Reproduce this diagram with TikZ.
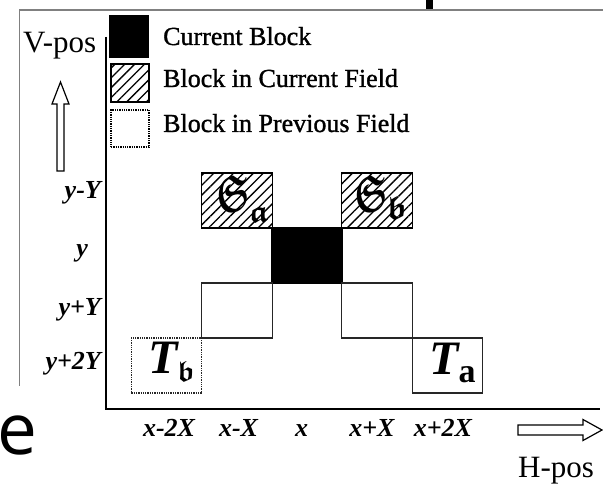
\documentclass[tikz,border=0pt]{standalone}
\usepackage{fontspec}
\usepackage{amsmath,amssymb}
\setmainfont{Liberation Serif}
\newfontfamily\slidefont{Open Sans}
\newfontfamily\scanfont[FakeBold=1.2]{Liberation Serif}
\usetikzlibrary{patterns.meta}
\newcommand{\bigT}{{\fontsize{48}{48}\selectfont\bfseries\itshape T}}
\newcommand{\bigS}{\scalebox{3.4}[5.2]{$\boldsymbol{\mathfrak{S}}$}}
\newcommand{\frsub}[3]{\raisebox{-#1}{\scalebox{#2}{$\boldsymbol{\mathfrak{#3}}$}}}
\tikzset{
  cell/.style={draw, line width=1.3pt, inner sep=0pt, minimum width=70.4pt, minimum height=55pt},
  curblock/.style={cell, fill=black},
  curfield/.style={cell, pattern={Lines[angle=45,distance=7pt,line width=1.3pt]}},
  prevfield/.style={cell, draw=black!85},
  legendtxt/.style={anchor=base west, inner sep=0pt, font=\fontsize{26}{28}\selectfont\scanfont},
  axlbl/.style={inner sep=0pt, font=\fontsize{26}{28}\selectfont\bfseries\itshape},
  postxt/.style={anchor=base west, inner sep=0pt, font=\fontsize{31}{33}\selectfont},
  symlbl/.style={anchor=base west, inner sep=0pt},
  frame/.style={draw=black!50, line width=1.5pt},
  axis/.style={draw, line width=1.4pt},
  openarrow/.style={draw, line width=1.2pt, fill=white}
}
\begin{document}
\begin{tikzpicture}[x=1pt,y=-1pt]
\useasboundingbox (0,0) rectangle (603,486);
\clip (0,0) rectangle (603,486);
% slide remnants
\fill (426,0) rectangle (433,9);
\node[anchor=base east, inner sep=0pt, font=\fontsize{71}{73}\selectfont\slidefont] (slide) at (38,455) {pe};
\draw[frame] (19.5,386) -- (19.5,10) -- (603,10);
% axes
\coordinate (vtop) at (106,37);
\coordinate (orig) at (106,409);
\coordinate (hend) at (600,409);
\draw[axis] (vtop) -- (orig) -- (hend);
% legend
\node[cell, fill=black, minimum width=38pt, minimum height=41pt] (lg1) at (129,36.5) {};
\node[cell, pattern={Lines[angle=45,distance=7pt,line width=1.3pt]}, minimum width=38pt, minimum height=38pt] (lg2) at (130,83) {};
\node[cell, densely dotted, minimum width=38pt, minimum height=37pt] (lg3) at (130,128.5) {};
\node[legendtxt] (t1) at (163,45) {Current Block};
\node[legendtxt] (t2) at (163,87) {Block in Current Field};
\node[legendtxt] (t3) at (163,132) {Block in Previous Field};
% position labels
\node[postxt] (vpos) at (23,53) {V-pos};
\node[postxt] (hpos) at (518,478) {H-pos};
% open arrows
\draw[openarrow] (57,171) -- (57,104) -- (52,104) -- (60.5,82) -- (69,104) -- (64,104) -- (64,171) -- cycle;
\draw[openarrow] (518,425) -- (583,425) -- (583,419.5) -- (602,430) -- (583,440.5) -- (583,435) -- (518,435) -- cycle;
% grid blocks
\node[curfield] (sa) at (237,200.5) {};
\node[curfield] (sb) at (377,200.5) {};
\node[curblock] (cur) at (307,255.5) {};
\node[prevfield] (pl) at (237,310.5) {};
\node[prevfield] (pr) at (377,310.5) {};
\node[prevfield, densely dotted] (tb) at (166.5,365.5) {};
\node[prevfield] (ta) at (447.5,365.5) {};
\node[symlbl] (lsa) at (216,212) {\bigS\frsub{11pt}{3.2}{a}};
\node[symlbl] (lsb) at (354,212) {\bigS\frsub{8pt}{3.3}{b}};
\node[symlbl] (ltb) at (148,374) {\bigT\frsub{8pt}{2.9}{b}};
\node[symlbl] (lta) at (429,375) {\bigT\raisebox{-8pt}{\fontsize{34}{34}\selectfont\bfseries a}};
% row labels
\node[axlbl, anchor=base east] (r1) at (101,199) {y-Y};
\node[axlbl, anchor=base east] (r2) at (88,257) {y};
\node[axlbl, anchor=base east] (r3) at (101,316) {y+Y};
\node[axlbl, anchor=base east] (r4) at (101,370) {y+2Y};
% column labels
\node[axlbl, anchor=base] (c1) at (169,437) {x-2X};
\node[axlbl, anchor=base] (c2) at (238.5,437) {x-X};
\node[axlbl, anchor=base] (c3) at (301.5,437) {x};
\node[axlbl, anchor=base] (c4) at (372,437) {x+X};
\node[axlbl, anchor=base] (c5) at (443,437) {x+2X};
\end{tikzpicture}
\end{document}
